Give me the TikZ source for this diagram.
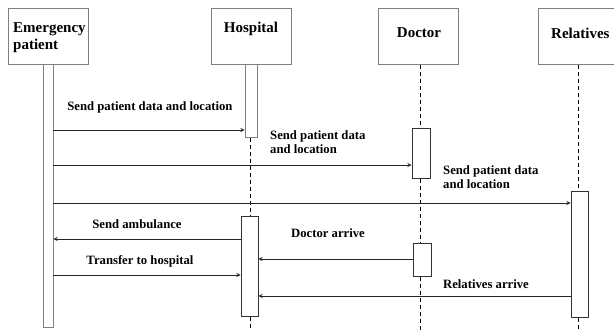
\documentclass[tikz,border=0pt]{standalone}
\usepackage{fontspec}
\setmainfont{Liberation Serif}
\usetikzlibrary{positioning}

\begin{document}
\begin{tikzpicture}[>=stealth,x=1pt,y=-1pt,
    actor/.style={draw=gray,line width=1.2pt,minimum width=80pt,minimum height=56pt,anchor=north west,inner sep=0pt},
    title/.style={font=\bfseries\fontsize{15}{17}\selectfont,inner sep=0pt,align=left},
    bar/.style={draw=black!80,fill=white,line width=0.8pt,anchor=north,inner sep=0pt},
    life/.style={line width=1pt,dash pattern=on 4pt off 3pt},
    msg/.style={->,line width=0.9pt,draw=black!85},
    lbl/.style={font=\bfseries\fontsize{12.7}{14}\selectfont,inner sep=0pt,align=left}]
    \useasboundingbox (0,0) rectangle (614,330);
    \coordinate (bot) at (0,330);
    % participants
    \node[actor] (ep) at (8,8) {};
    \node[actor] (hos) at (211,8) {};
    \node[actor] (doc) at (378,8) {};
    \node[actor,minimum width=84pt] (rel) at (538,8) {};
    \node[title,anchor=west] (ept) at (13,38) {Emergency\\patient};
    \node[title] (host) at (251,29) {Hospital};
    \node[title] (doct) at (419,33) {Doctor};
    \node[title,anchor=west] (relt) at (551,33) {Relatives};
    % activation bars
    \node[bar,draw=gray,minimum width=10pt,minimum height=263pt] (epb) at (48,64) {};
    \node[bar,draw=gray,minimum width=12pt,minimum height=73pt] (hb1) at (251,64) {};
    \node[bar,minimum width=17pt,minimum height=100pt] (hb2) at (249.5,216) {};
    \node[bar,minimum width=18pt,minimum height=50pt] (db1) at (421,128) {};
    \node[bar,minimum width=18pt,minimum height=33pt] (db2) at (422,243) {};
    \node[bar,minimum width=17pt,minimum height=126pt] (rb) at (579.5,191) {};
    % lifelines
    \draw[life] (250,0 |- hb1.south) -- (250,0 |- hb2.north);
    \draw[life] (250,0 |- hb2.south) -- (250,0 |- bot);
    \draw[life] (420,0 |- doc.south) -- (420,0 |- db1.north);
    \draw[life] (420,0 |- db1.south) -- (420,0 |- db2.north);
    \draw[life] (420,0 |- db2.south) -- (420,0 |- bot);
    \draw[life] (578,0 |- rel.south) -- (578,0 |- rb.north);
    \draw[life] (578,0 |- rb.south) -- (578,0 |- bot);
    % messages
    \draw[msg] (epb.east |- 0,130) -- (hb1.west |- 0,130);
    \node[lbl] (m1) at (150,107) {Send patient data and location};
    \draw[msg] (epb.east |- 0,165) -- (db1.west |- 0,165);
    \node[lbl,anchor=west] (m2) at (270,142) {Send patient data\\and location};
    \draw[msg] (epb.east |- 0,203) -- (rb.west |- 0,203);
    \node[lbl,anchor=west] (m3) at (443,177) {Send patient data\\and location};
    \draw[msg] (hb2.west |- 0,239) -- (epb.east |- 0,239);
    \node[lbl] (m4) at (137,224) {Send ambulance};
    \draw[msg] (epb.east |- 0,275) -- (hb2.west |- 0,275);
    \node[lbl] (m5) at (140,261) {Transfer to hospital};
    \draw[msg] (db2.west |- 0,259) -- (hb2.east |- 0,259);
    \node[lbl] (m6) at (328,233) {Doctor arrive};
    \draw[msg] (rb.west |- 0,296) -- (hb2.east |- 0,296);
    \node[lbl] (m7) at (486,284) {Relatives arrive};
\end{tikzpicture}
\end{document}
